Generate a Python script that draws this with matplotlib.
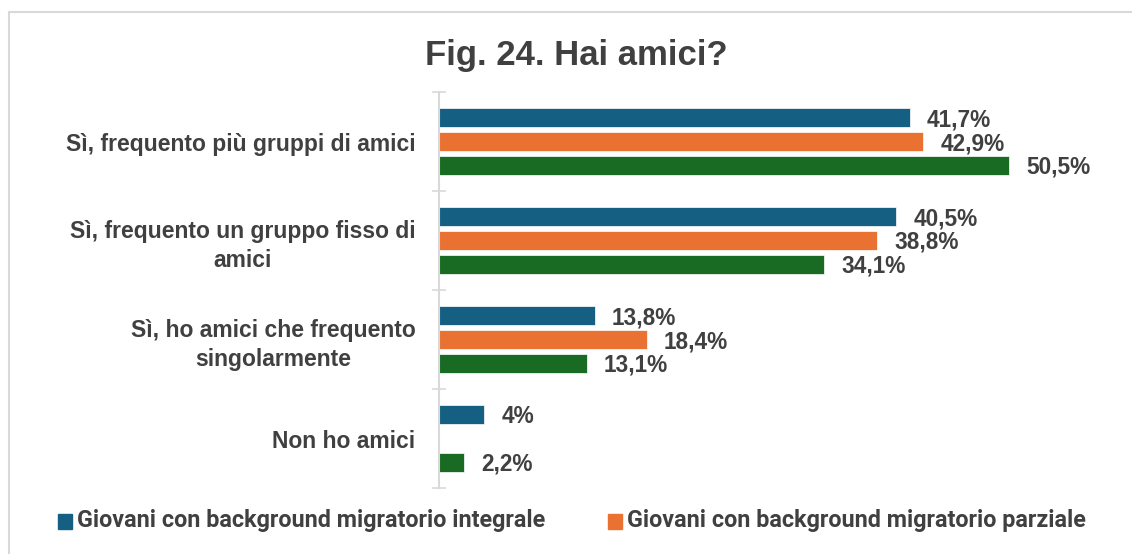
import matplotlib
matplotlib.use("Agg")
import matplotlib.pyplot as plt
from matplotlib.patches import Rectangle

categories = [
    "Sì, frequento più gruppi di amici",
    "Sì, frequento un gruppo fisso di\namici",
    "Sì, ho amici che frequento\nsingolarmente",
    "Non ho amici",
]
series_names = [
    "Giovani con background migratorio integrale",
    "Giovani con background migratorio parziale",
    "Giovani senza background migratorio",
]
integrale = [41.7, 40.5, 13.8, 4.0]
parziale = [42.9, 38.8, 18.4, None]
senza = [50.5, 34.1, 13.1, 2.2]
value_labels = [
    ["41,7%", "40,5%", "13,8%", "4%"],
    ["42,9%", "38,8%", "18,4%", ""],
    ["50,5%", "34,1%", "13,1%", "2,2%"],
]
colors = ["#156082", "#E97132", "#196B24"]
text_color = "#404040"

W, H = 1132, 554
fig = plt.figure(figsize=(W / 100, H / 100), dpi=100)

# outer chart-area frame
fig.patches.append(Rectangle((9 / W, -0.1), 1.2, 1 - 12 / H + 0.1,
                             transform=fig.transFigure, fill=False,
                             edgecolor="#D9D9D9", linewidth=1.5))

ax_left, ax_right = 439 / W, 1100 / W
ax_top, ax_bottom = 1 - 92 / H, 1 - 488 / H
ax = fig.add_axes([ax_left, ax_bottom, ax_right - ax_left, ax_top - ax_bottom])

series = [integrale, parziale, senza]
offsets = [-0.2424, 0.0, 0.2424]
bar_h = 0.185
for s, (vals, off, col, labs) in enumerate(zip(series, offsets, colors, value_labels)):
    for i, v in enumerate(vals):
        if v is None:
            continue
        ax.barh(i + off, v, height=bar_h, color=col, edgecolor="white", linewidth=0.5)
        ax.annotate(labs[i], xy=(v, i + off), xytext=(17, -2),
                    textcoords="offset pixels", ha="left", va="center",
                    fontsize=16.3, fontweight="bold", color=text_color,
                    family="Liberation Sans")

ax.set_xlim(0, 661 / 11.29)
ax.set_ylim(3.5, -0.5)
ax.set_yticks([i + 0.5 for i in range(-1, 4)])
ax.set_yticklabels([])
ax.set_yticks(range(4), minor=True)
ax.set_yticklabels(categories, minor=True, fontsize=16.5, fontweight="bold",
                   color=text_color, family="Liberation Sans",
                   multialignment="center", linespacing=1.35)
ax.tick_params(axis="y", which="major", direction="inout", length=10,
               width=1.2, color="#D9D9D9")
ax.tick_params(axis="y", which="minor", length=0, pad=17)
ax.set_xticks([])
for side in ["top", "right", "bottom"]:
    ax.spines[side].set_visible(False)
ax.spines["left"].set_color("#D9D9D9")
ax.spines["left"].set_linewidth(1.5)

fig.text(576 / W, 1 - 56 / H, "Fig. 24. Hai amici?", ha="center", va="center",
         fontsize=25, fontweight="bold", color=text_color, family="Liberation Sans")

# legend
leg_y = 1 - 521 / H
for name, col, sx in zip(series_names[:2], colors[:2], [58, 608]):
    fig.patches.append(Rectangle((sx / W, leg_y - 7.5 / H), 14 / W, 15 / H,
                                 transform=fig.transFigure, color=col))
    fig.text((sx + 19) / W, leg_y, name, ha="left", va="center",
             fontsize=16.8, fontweight="bold", color=text_color, family="Roboto")

fig.savefig("out.png", dpi=100, facecolor="white")
